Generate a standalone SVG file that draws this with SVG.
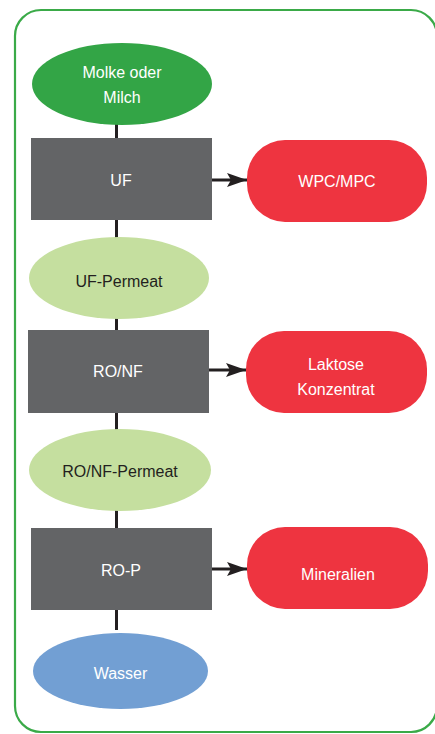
<svg xmlns="http://www.w3.org/2000/svg" width="435" height="734" viewBox="0 0 435 734">
<style>
.t{font-family:"Liberation Sans",Arial,sans-serif;font-size:16px;text-anchor:middle;dominant-baseline:central}
.w{fill:#ffffff}
.d{fill:#231f20}
.proc{fill:#636466}
.prod{fill:#ee3440}
.perm{fill:#c5df9f}
.conn{stroke:#231f20;stroke-width:3;fill:none}
</style>
<defs>
<marker id="ah" markerWidth="20" markerHeight="14" refX="20" refY="7" orient="auto" markerUnits="userSpaceOnUse">
<path d="M0,0 L20,7 L0,14 L4,7 Z" fill="#231f20"/>
</marker>
</defs>
<rect x="15" y="10" width="422" height="722" rx="26" ry="26" fill="none" stroke="#3aaa48" stroke-width="2.2"/>
<g id="connectors">
<line class="conn" x1="116.5" y1="124" x2="116.5" y2="139"/>
<line class="conn" x1="116.5" y1="220" x2="116.5" y2="238"/>
<line class="conn" x1="116.5" y1="318" x2="116.5" y2="331"/>
<line class="conn" x1="116.5" y1="412" x2="116.5" y2="430"/>
<line class="conn" x1="116.5" y1="510" x2="116.5" y2="529"/>
<line class="conn" x1="116.5" y1="609" x2="116.5" y2="630"/>
<line class="conn" x1="212" y1="180" x2="247" y2="180" marker-end="url(#ah)"/>
<line class="conn" x1="209" y1="370" x2="246" y2="370" marker-end="url(#ah)"/>
<line class="conn" x1="212" y1="569" x2="247" y2="569" marker-end="url(#ah)"/>
</g>
<g id="molke">
<ellipse cx="122" cy="84" rx="90" ry="41" fill="#33a546"/>
<text class="t w" x="122" y="72">Molke oder</text>
<text class="t w" x="122" y="97">Milch</text>
</g>
<g id="uf">
<rect class="proc" x="31" y="138" width="181" height="82"/>
<text class="t w" x="121" y="180">UF</text>
</g>
<g id="wpc">
<rect class="prod" x="247" y="140" width="180" height="82" rx="38" ry="38"/>
<text class="t w" x="337" y="181">WPC/MPC</text>
</g>
<g id="ufperm">
<ellipse class="perm" cx="119" cy="278" rx="90" ry="41"/>
<text class="t d" x="119" y="281">UF-Permeat</text>
</g>
<g id="ronf">
<rect class="proc" x="28" y="330" width="181" height="83"/>
<text class="t w" x="118" y="371">RO/NF</text>
</g>
<g id="laktose">
<rect class="prod" x="246" y="331" width="181" height="82" rx="38" ry="38"/>
<text class="t w" x="336" y="364">Laktose</text>
<text class="t w" x="336" y="389">Konzentrat</text>
</g>
<g id="ronfperm">
<ellipse class="perm" cx="120" cy="470" rx="91" ry="41"/>
<text class="t d" x="120" y="471">RO/NF-Permeat</text>
</g>
<g id="rop">
<rect class="proc" x="31" y="528" width="181" height="82"/>
<text class="t w" x="121" y="570">RO-P</text>
</g>
<g id="mineralien">
<rect class="prod" x="247" y="527" width="181" height="82" rx="38" ry="38"/>
<text class="t w" x="338" y="574">Mineralien</text>
</g>
<g id="wasser">
<ellipse cx="120.5" cy="671" rx="87.5" ry="38" fill="#729fd3"/>
<text class="t w" x="120.5" y="673">Wasser</text>
</g>
</svg>
